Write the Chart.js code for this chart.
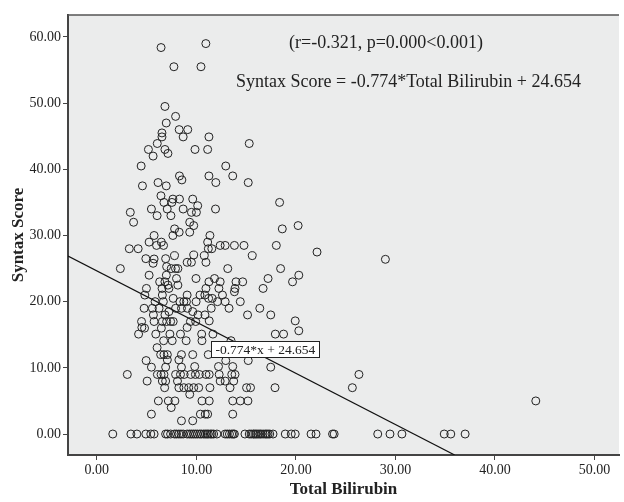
<!DOCTYPE html>
<html>
<head>
<meta charset="utf-8">
<script src="https://cdn.jsdelivr.net/npm/chart.js@4.4.0/dist/chart.umd.min.js"></script>
<style>
html, body { margin: 0; padding: 0; background: #fff; overflow: hidden; }
#wrap { width: 624px; height: 502px; }
</style>
</head>
<body>
<div id="wrap"><canvas id="scatter" width="624" height="502"></canvas></div>
<script>
// Data (Total Bilirubin, Syntax Score)
const scorePoints = [
  [6.45,58.4],[10.95,59.0],[7.74,55.5],[10.46,55.5],[6.84,49.5],[7.91,48.0],[6.97,47.0],
  [6.54,45.5],[6.54,44.9],[8.27,46.0],[9.13,46.0],[8.67,44.9],[11.26,44.9],[15.31,43.9],
  [6.07,43.9],[5.18,43.0],[6.84,43.0],[5.65,42.0],[7.14,42.4],[9.86,43.0],[11.13,43.0],
  [4.45,40.5],[12.95,40.5],[8.3,39.0],[8.54,38.4],[11.26,39.0],[13.65,39.0],[11.95,38.0],
  [15.21,38.0],[6.15,38.0],[6.97,37.5],[4.58,37.5],[6.44,36.0],[7.64,35.5],[6.74,35.0],
  [7.54,35.0],[8.3,35.5],[9.63,35.5],[10.13,34.5],[9.5,33.5],[10.0,33.5],[18.36,35.0],
  [5.48,34.0],[7.07,34.0],[8.67,34.0],[11.92,34.0],[3.36,33.5],[6.05,33.0],[7.44,33.0],
  [3.69,32.0],[9.33,32.0],[9.73,31.5],[7.81,31.0],[18.63,31.0],[20.22,31.5],[8.27,30.5],
  [9.33,30.5],[7.64,30.0],[5.75,30.0],[11.36,30.0],[5.25,29.0],[6.48,29.0],[11.13,29.0],
  [6.0,28.5],[6.7,28.5],[12.39,28.5],[12.89,28.5],[13.82,28.5],[14.78,28.5],[18.03,28.5],
  [3.26,28.0],[4.15,28.0],[11.2,28.0],[11.55,28.0],[22.12,27.5],[28.99,26.4],
  [2.36,25.0],[4.92,26.5],[5.75,26.45],[5.65,25.8],[6.91,26.5],[7.8,26.95],[7.01,25.3],
  [7.47,25.0],[7.9,25.0],[8.14,25.0],[9.07,25.95],[9.5,25.95],[9.73,27.05],[10.79,26.95],
  [10.96,25.95],[13.15,25.0],[15.61,26.95],[18.46,25.0],[5.25,24.0],[6.98,24.0],[8.0,23.5],
  [9.96,23.5],[11.82,23.5],[12.39,23.0],[13.98,23.0],[14.65,23.0],[17.2,23.5],[19.66,23.0],
  [20.29,24.0],[6.31,23.0],[6.84,23.0],[7.14,22.5],[8.14,22.5],[11.26,23.0],[12.26,22.0],
  [10.96,22.0],[13.82,21.5],[13.88,22.0],[16.7,22.0],[4.98,22.0],[6.55,22.0],[7.24,22.0],
  [4.82,21.0],[6.58,21.0],[9.07,21.0],[10.36,21.0],[10.85,21.0],[12.62,21.0],[5.85,20.0],
  [6.68,20.0],[7.67,20.5],[8.34,20.0],[8.74,20.0],[9.0,20.0],[9.97,20.0],[11.23,20.5],
  [11.59,20.5],[12.12,20.0],[12.89,20.0],[14.41,20.0],[4.75,19.0],[5.58,19.0],[6.25,19.0],
  [7.24,18.5],[7.91,19.0],[8.5,19.0],[9.1,19.0],[9.63,18.5],[10.16,18.0],[10.86,18.0],
  [11.49,19.0],[13.28,19.0],[15.14,18.0],[16.37,19.0],[17.47,18.0],[5.68,18.0],[6.84,18.0],
  [4.49,17.0],[4.79,16.0],[4.19,15.1],[4.52,16.1],[5.75,17.0],[6.58,17.0],[7.01,17.0],
  [7.41,17.0],[7.67,17.0],[6.48,16.0],[5.92,15.1],[7.34,15.1],[8.4,15.1],[9.07,16.1],
  [9.4,17.0],[9.93,17.0],[10.53,15.1],[11.29,17.1],[11.66,15.1],[13.48,14.1],[17.93,15.1],
  [18.76,15.1],[19.93,17.1],[20.29,15.6],[6.05,13.05],[6.71,14.1],[7.57,14.1],[8.97,14.1],
  [10.56,14.1],[6.41,12.0],[6.74,12.0],[7.08,12.0],[8.5,12.0],[9.63,12.0],[11.19,12.0],
  [4.95,11.1],[7.08,11.2],[8.24,11.2],[9.83,10.2],[12.22,10.2],[12.95,11.1],[13.65,10.2],
  [15.21,11.1],[17.47,10.1],[5.48,10.1],[6.91,10.1],[8.5,10.1],[3.06,9.0],[6.08,9.0],
  [6.45,9.0],[6.74,9.0],[7.91,9.0],[8.4,9.0],[8.77,9.0],[9.43,9.0],[9.9,9.0],[10.3,9.0],
  [10.96,9.0],[11.29,9.0],[12.29,9.0],[13.55,9.0],[13.88,9.0],[5.05,8.0],[6.58,8.0],
  [6.91,8.0],[8.1,8.0],[12.39,8.0],[12.89,8.0],[13.75,8.0],[6.81,7.0],[8.24,7.0],[8.74,7.0],
  [9.23,7.0],[9.73,7.0],[10.23,7.0],[11.36,7.0],[13.38,7.0],[15.04,7.0],[15.44,7.0],
  [17.9,7.0],[9.33,6.0],[6.18,5.0],[7.18,5.0],[7.84,5.0],[7.47,4.0],[10.56,5.0],[11.29,5.0],
  [13.65,5.0],[14.41,5.0],[15.18,5.0],[5.48,3.0],[10.4,3.0],[10.89,3.0],[11.13,3.0],
  [13.65,3.0],[8.5,2.0],[9.63,2.0],[25.67,7.0],[26.33,9.0],[44.1,5.0]
];

// Bilirubin values of patients with a Syntax Score of 0
const zeroScoreBilirubin = [
  1.6,3.42,4.02,4.92,5.42,5.75,6.91,7.1,7.41,7.8,8.0,8.24,8.45,8.67,9.07,9.3,9.5,9.7,9.9,
  10.1,10.33,10.5,10.73,10.9,11.06,11.2,11.4,11.55,11.73,12.06,12.89,13.1,13.32,13.55,13.7,
  13.82,14.88,15.31,15.5,15.71,15.9,16.04,16.2,16.37,16.5,16.7,16.9,17.04,17.2,17.37,17.7,
  18.93,19.53,19.93,21.52,22.02,23.68,23.84,28.22,29.45,30.65,34.9,35.56,37.0
];

// Linear fit
const slope = -0.774;
const intercept = 24.654;
const rText = '(r=-0.321, p=0.000<0.001)';
const fitText = 'Syntax Score = -0.774*Total Bilirubin + 24.654';
const lineLabel = '-0.774*x + 24.654';
const lineLabelAt = [11.45, 12.85];

const xTicks = [0, 10, 20, 30, 40, 50];
const yTicks = [0, 10, 20, 30, 40, 50, 60];
const X_MIN = -2.9, X_MAX = 52.46, Y_MIN = -3.17, Y_MAX = 63.32;

const FONT = "'Liberation Serif', 'DejaVu Serif', serif";
const INK = '#222';

const allPoints = scorePoints.map(p => ({ x: p[0], y: p[1] }))
  .concat(zeroScoreBilirubin.map(x => ({ x: x, y: 0 })));

// fit line from left edge down to where it leaves the bottom
const fitLine = [
  { x: X_MIN, y: slope * X_MIN + intercept },
  { x: (Y_MIN - intercept) / slope, y: Y_MIN }
];

const decor = {
  id: 'decor',
  beforeDraw(chart) {
    const { ctx, chartArea: a } = chart;
    ctx.save();
    ctx.fillStyle = '#ebecec';
    ctx.fillRect(a.left, a.top, a.right - a.left, a.bottom - a.top);
    ctx.restore();
  },
  afterDatasetsDraw(chart) {
    const { ctx, chartArea: a, scales } = chart;
    ctx.save();
    // label box on the fit line
    ctx.font = '13.5px ' + FONT;
    const w = Math.round(ctx.measureText(lineLabel).width + 8);
    const bx = Math.round(scales.x.getPixelForValue(lineLabelAt[0])) + 0.5;
    const by = Math.round(scales.y.getPixelForValue(lineLabelAt[1]) - 8) + 0.5;
    ctx.fillStyle = '#fff';
    ctx.fillRect(bx, by, w, 16);
    ctx.strokeStyle = '#222';
    ctx.lineWidth = 1;
    ctx.strokeRect(bx, by, w, 16);
    ctx.fillStyle = INK;
    ctx.textBaseline = 'middle';
    ctx.textAlign = 'left';
    ctx.fillText(lineLabel, bx + 4, by + 8.5);

    // top frame line
    ctx.strokeStyle = '#555';
    ctx.lineWidth = 1.5;
    ctx.beginPath();
    ctx.moveTo(a.left, a.top);
    ctx.lineTo(a.right, a.top);
    ctx.stroke();

    // annotations
    ctx.font = '18px ' + FONT;
    ctx.textAlign = 'center';
    ctx.fillText(rText, 386, 43);
    ctx.textAlign = 'left';
    ctx.fillText(fitText, 236, 82);

    // axis titles
    ctx.font = 'bold 17px ' + FONT;
    ctx.textAlign = 'center';
    ctx.fillText('Total Bilirubin', (a.left + a.right) / 2, 490);
    ctx.translate(19, (a.top + a.bottom) / 2);
    ctx.rotate(-Math.PI / 2);
    ctx.fillText('Syntax Score', 0, 0);
    ctx.restore();
  }
};

new Chart(document.getElementById('scatter'), {
  type: 'scatter',
  data: {
    datasets: [
      {
        label: 'Syntax Score',
        data: allPoints,
        pointRadius: 4,
        pointBorderWidth: 1,
        pointBorderColor: '#222',
        pointBackgroundColor: 'rgba(0,0,0,0)',
        showLine: false
      },
      {
        type: 'line',
        label: 'Fit',
        data: fitLine,
        borderColor: '#111',
        borderWidth: 1.2,
        pointRadius: 0,
        fill: false
      }
    ]
  },
  options: {
    responsive: false,
    animation: false,
    devicePixelRatio: 1,
    layout: { padding: { top: 15, right: 0, left: 0, bottom: 0 } },
    plugins: { legend: { display: false }, tooltip: { enabled: false } },
    scales: {
      x: {
        type: 'linear',
        min: X_MIN,
        max: X_MAX,
        afterBuildTicks: s => { s.ticks = xTicks.map(v => ({ value: v })); },
        afterFit: s => { s.height = 47; },
        ticks: {
          callback: v => v.toFixed(2),
          font: { family: FONT, size: 14 },
          color: INK,
          padding: 2,
          maxRotation: 0,
          autoSkip: false
        },
        grid: { drawOnChartArea: false, drawTicks: true, tickLength: 5, color: '#444' },
        border: { display: true, color: '#444', width: 2 }
      },
      y: {
        type: 'linear',
        min: Y_MIN,
        max: Y_MAX,
        afterBuildTicks: s => { s.ticks = yTicks.map(v => ({ value: v })); },
        afterFit: s => { s.width = 68; },
        ticks: {
          callback: v => v.toFixed(2),
          font: { family: FONT, size: 14 },
          color: INK,
          padding: 2,
          autoSkip: false
        },
        grid: { drawOnChartArea: false, drawTicks: true, tickLength: 5, color: '#444' },
        border: { display: true, color: '#444', width: 2 }
      }
    }
  },
  plugins: [decor]
});
</script>
</body>
</html>
